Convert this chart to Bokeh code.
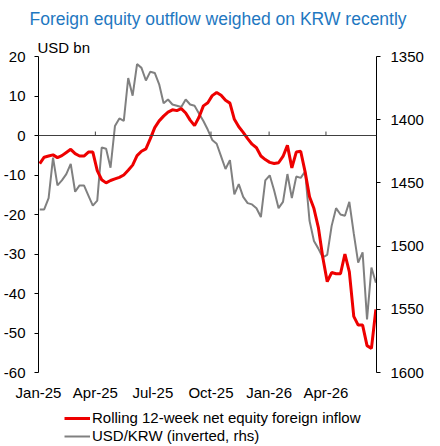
from datetime import date, datetime, timedelta
from bokeh.plotting import figure
from bokeh.layouts import column
from bokeh.models import (Range1d, LinearAxis, FixedTicker, DatetimeTickFormatter,
                          Legend, Title, Span, ColumnDataSource)
from bokeh.embed import file_html
from bokeh.resources import INLINE

# ---------------- data ----------------
start_week = date(2025, 1, 3)
n_weeks = 77
dates = [datetime.combine(start_week + timedelta(weeks=i), datetime.min.time()) for i in range(n_weeks)]

equity_flow = [
    -7.1, -5.5, -5.2, -4.9, -5.6, -5.1, -4.3, -3.5, -4.6, -5.2,
    -5.2, -4.2, -4.2, -8.9, -11.2, -12.0, -11.4, -11.0, -10.6, -10.0,
    -8.8, -7.5, -5.1, -4.0, -3.4, -0.8, 2.0, 3.7, 4.9, 5.9,
    6.5, 6.3, 6.8, 5.7, 3.9, 2.5, 4.6, 7.5, 8.3, 10.1,
    10.9, 10.2, 8.9, 8.2, 4.1, 2.2, 0.8, -0.8, -2.2, -3.1,
    -5.2, -6.1, -6.8, -7.1, -6.9, -5.3, -2.5, -8.2, -4.2, -4.0,
    -9.2, -15.5, -18.5, -23.3, -30.9, -37.0, -34.7, -35.0, -35.0, -30.0,
    -34.5, -45.8, -48.0, -48.0, -53.2, -53.9, -44.0,
]

usdkrw = [
    1471, 1471, 1462, 1430, 1452, 1448, 1443, 1435, 1457, 1452,
    1452, 1460, 1468, 1464, 1422, 1423, 1438, 1405, 1399, 1401,
    1367, 1381, 1356, 1359, 1369, 1362, 1363, 1372, 1387, 1384,
    1388, 1389, 1390, 1384, 1388, 1389, 1395, 1401, 1408, 1416,
    1419, 1429, 1439, 1432, 1459, 1451, 1461, 1466, 1467, 1470,
    1477, 1448, 1444, 1456, 1470, 1465, 1443, 1462, 1445, 1446,
    1441, 1480, 1496, 1502, 1509, 1507, 1484, 1470, 1475, 1476,
    1465, 1490, 1513, 1505, 1558, 1517, 1529,
]

quarter_ticks = [datetime(2025, 1, 1), datetime(2025, 4, 1), datetime(2025, 7, 1),
                 datetime(2025, 10, 1), datetime(2026, 1, 1), datetime(2026, 4, 1)]
left_ticks = [20, 10, 0, -10, -20, -30, -40, -50, -60]
right_ticks = [1350, 1400, 1450, 1500, 1550, 1600]

title_text = "Foreign equity outflow weighed on KRW recently"
unit_text = "USD bn"
red_label = "Rolling 12-week net equity foreign inflow"
gray_label = "USD/KRW (inverted, rhs)"

# ---------------- styling ----------------
FONT = "Liberation Sans"
RED = "#ee0000"
GRAY = "#808080"
BLUE = "#1f78c1"

x_start = datetime(2025, 1, 1)
x_end = datetime(2026, 6, 20)

p = figure(frame_width=338, frame_height=316, output_backend="svg", toolbar_location=None,
           x_axis_type="datetime",
           x_range=Range1d(x_start, x_end), y_range=Range1d(-60, 20),
           min_border_left=35, min_border_right=67, min_border_top=56,
           min_border_bottom=0)
p.outline_line_color = None
p.background_fill_color = "white"
p.border_fill_color = "white"
p.xgrid.visible = False
p.ygrid.visible = False

# main title (outermost)
p.title.text = title_text
p.title.text_font = FONT
p.title.text_font_size = "17.5px"
p.title.text_font_style = "normal"
p.title.text_color = BLUE
p.title.align = "left"
p.title.vertical_align = "top"
p.title.offset = -9
p.title.standoff = 12

# unit label (closest to the frame)
unit_title = Title(text=unit_text, align="left", offset=-1, standoff=1,
                   text_font=FONT, text_font_size="15px", text_font_style="normal",
                   text_color="black")
p.add_layout(unit_title, "above")

p.extra_y_ranges = {"krw": Range1d(start=1600, end=1350)}

src = ColumnDataSource(dict(d=dates, flow=equity_flow, krw=usdkrw))

# zero line and quarterly ticks on it
p.add_layout(Span(location=0, dimension="width", line_color="#404040", line_width=1))
tick_src = ColumnDataSource(dict(d=quarter_ticks, y0=[0]*len(quarter_ticks), y1=[1.0]*len(quarter_ticks)))
p.segment(x0="d", y0="y0", x1="d", y1="y1", source=tick_src, line_color="#404040", line_width=1)

gray_r = p.line("d", "krw", source=src, y_range_name="krw", line_color=GRAY, line_width=2)
red_r = p.line("d", "flow", source=src, line_color=RED, line_width=3)

# x axis (labels only)
xa = p.xaxis[0]
xa.ticker = FixedTicker(ticks=[t.timestamp() * 1000 for t in quarter_ticks])
xa.formatter = DatetimeTickFormatter(days="%b-%y", months="%b-%y", years="%b-%y")
xa.axis_line_color = None
xa.major_tick_line_color = None
xa.major_tick_out = 0
xa.major_tick_in = 0
xa.minor_tick_line_color = None
xa.minor_tick_out = 0
xa.axis_label_standoff = 0
xa.major_label_standoff = 11
xa.major_label_text_font = FONT
xa.major_label_text_font_size = "15px"
xa.major_label_text_color = "black"

# left axis
ya = p.yaxis[0]
ya.ticker = FixedTicker(ticks=left_ticks)
ya.major_label_overrides = {t: str(t) for t in left_ticks}
ya.axis_line_color = "black"
ya.major_tick_line_color = "black"
ya.major_tick_out = 4
ya.major_tick_in = 0
ya.minor_tick_line_color = None
ya.minor_tick_out = 0
ya.axis_label_standoff = 0
ya.major_label_standoff = 9
ya.major_label_text_font = FONT
ya.major_label_text_font_size = "15px"
ya.major_label_text_color = "black"

# right axis
ra = LinearAxis(y_range_name="krw", ticker=FixedTicker(ticks=right_ticks))
ra.axis_line_color = "black"
ra.major_tick_line_color = "black"
ra.major_tick_out = 4
ra.major_tick_in = 0
ra.minor_tick_line_color = None
ra.minor_tick_out = 0
ra.axis_label_standoff = 0
ra.major_label_standoff = 10
ra.major_label_text_font = FONT
ra.major_label_text_font_size = "15px"
ra.major_label_text_color = "black"
p.add_layout(ra, "right")

# ---------------- legend strip (series drawn off-range, only their legend shows) ----------------
p2 = figure(width=440, height=44, output_backend="svg", toolbar_location=None,
            x_range=Range1d(0, 1), y_range=Range1d(0, 1),
            min_border=0)
p2.xaxis.visible = False
p2.yaxis.visible = False
p2.xgrid.visible = False
p2.ygrid.visible = False
p2.outline_line_color = None
p2.background_fill_color = "white"
p2.border_fill_color = "white"
lr = p2.line(x="d", y="flow", source=src, line_color=RED, line_width=3)
lg = p2.line(x="d", y="krw", source=src, line_color=GRAY, line_width=2)

legend = Legend(items=[(red_label, [lr]), (gray_label, [lg])],
                location=(26, 3), orientation="vertical")
legend.label_text_font = FONT
legend.label_text_font_size = "15px"
legend.label_text_color = "black"
legend.glyph_width = 26
legend.glyph_height = 16
legend.label_height = 16
legend.label_standoff = 2
legend.spacing = 1
legend.padding = 0
legend.margin = 0
legend.border_line_color = None
legend.background_fill_alpha = 0
p2.add_layout(legend)

layout = column(p, p2, spacing=0)
open("out.html", "w").write(file_html(layout, INLINE))
